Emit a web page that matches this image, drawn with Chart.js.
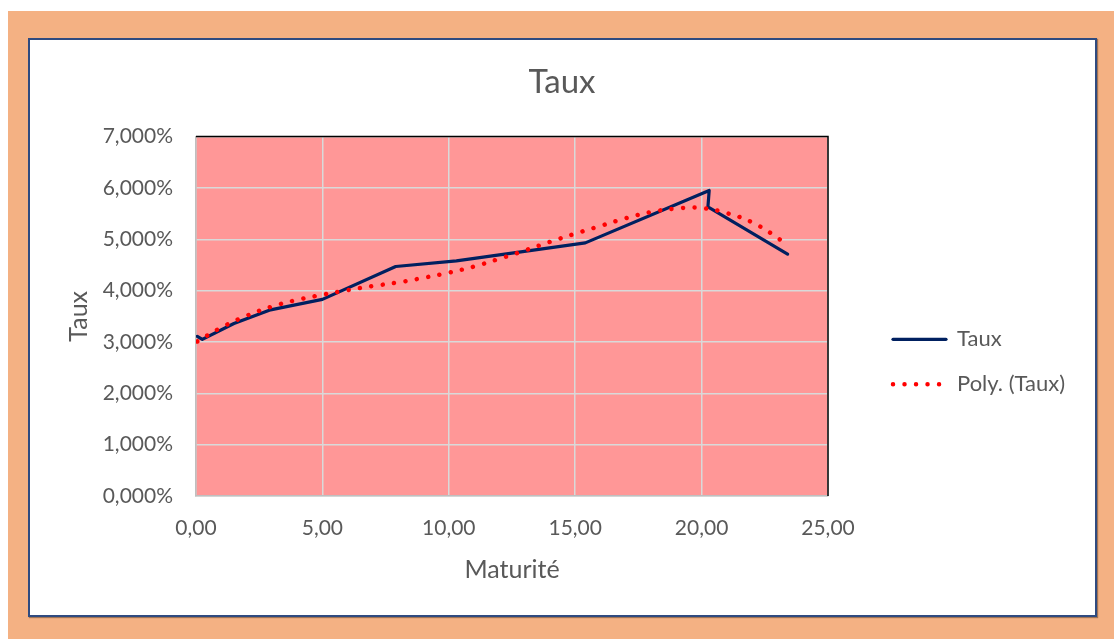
<!DOCTYPE html>
<html lang="fr">
<head>
<meta charset="utf-8">
<title>Taux</title>
<script src="https://cdn.jsdelivr.net/npm/chart.js@4.4.1/dist/chart.umd.min.js"></script>
<style>
  html, body { margin: 0; padding: 0; background: #ffffff; }
  body { width: 1114px; height: 639px; position: relative; overflow: hidden; }
  .frame {
    position: absolute; left: 8px; top: 11px; width: 1106px; height: 628px;
    background: #F4B183;
  }
  .card {
    position: absolute; left: 28px; top: 38px; width: 1065px; height: 575px;
    background: #ffffff; border: 2px solid #2F4B80;
    box-shadow: 1px 1px 1px rgba(0, 0, 0, 0.35);
  }
  #chart { position: absolute; left: 0; top: 0; }
</style>
</head>
<body>
<div class="frame"></div>
<div class="card"></div>
<canvas id="chart" width="1114" height="639"></canvas>
<script>
// Observed rates (in %) by maturity (years)
const maturites = [0.05, 0.25, 1.5, 2.9, 5.0, 7.9, 10.3, 15.4, 20.3, 20.25, 23.4];
const taux      = [3.11, 3.05, 3.36, 3.62, 3.83, 4.47, 4.58, 4.93, 5.95, 5.63, 4.71];

// Polynomial trend curve of the rates
const polyMaturites = [0.05, 1, 2, 3, 4, 5, 6, 7, 8, 9, 10, 11, 12, 13, 14, 15, 16, 17, 18, 19, 20, 21, 22, 23, 23.4];
const polyTaux      = [3.01, 3.28, 3.51, 3.69, 3.82, 3.92, 4.01, 4.09, 4.16, 4.25, 4.35, 4.47, 4.62, 4.78, 4.95, 5.11, 5.26, 5.41, 5.53, 5.60, 5.61, 5.51, 5.33, 5.03, 4.86];

// Axis ticks
const xTicks = [0, 5, 10, 15, 20, 25];
const yTicks = [0, 1, 2, 3, 4, 5, 6, 7];

const TEXT = '#595959';
const FONT = 'Lato';

const tauxPoints = maturites.map((m, i) => ({ x: m, y: taux[i] }));
const polyPoints = polyMaturites.map((m, i) => ({ x: m, y: polyTaux[i] }));

// Pink plot background and black top/right plot frame
const plotArea = {
  id: 'plotArea',
  beforeDraw(chart) {
    const { ctx, chartArea: a } = chart;
    ctx.save();
    ctx.fillStyle = '#FF9797';
    ctx.fillRect(a.left, a.top, a.right - a.left, a.bottom - a.top);
    ctx.restore();
  },
  beforeDatasetsDraw(chart) {
    const { ctx, chartArea: a } = chart;
    ctx.save();
    ctx.strokeStyle = '#000000';
    ctx.lineWidth = 1.5;
    ctx.beginPath();
    ctx.moveTo(a.left, a.top);
    ctx.lineTo(a.right, a.top);
    ctx.lineTo(a.right, a.bottom);
    ctx.stroke();
    ctx.restore();
  }
};

// Put the legend block to the right of the plot, vertically below centre
const legendPlacement = {
  id: 'legendPlacement',
  afterLayout(chart) {
    const lg = chart.legend;
    const a = chart.chartArea;
    lg.left = a.right + 42;
    lg.right = lg.left + 240;
    lg.top = (a.top + a.bottom) / 2 - 11;
    lg.bottom = lg.top + 150;
    lg.width = lg.right - lg.left;
    lg.height = lg.bottom - lg.top;
  }
};

new Chart(document.getElementById('chart'), {
  type: 'scatter',
  data: {
    datasets: [
      {
        label: 'Taux',
        data: tauxPoints,
        showLine: true,
        borderColor: '#002060',
        backgroundColor: '#002060',
        borderWidth: 3.2,
        borderJoinStyle: 'round',
        borderCapStyle: 'round',
        pointRadius: 0,
        pointHoverRadius: 0,
        tension: 0,
        order: 1
      },
      {
        label: 'Poly. (Taux)',
        data: polyPoints,
        showLine: true,
        borderColor: '#FF0000',
        backgroundColor: '#FF0000',
        borderWidth: 4.5,
        borderDash: [0.01, 11.5],
        borderCapStyle: 'round',
        pointRadius: 0,
        pointHoverRadius: 0,
        tension: 0.4,
        order: 0
      }
    ]
  },
  options: {
    responsive: false,
    animation: false,
    devicePixelRatio: 1,
    layout: { padding: { left: 10, right: 0, top: 0, bottom: 0 } },
    plugins: {
      title: {
        display: true,
        text: 'Taux',
        color: TEXT,
        font: { family: FONT, size: 33, weight: 'normal' },
        padding: { top: 63, bottom: 34 }
      },
      legend: {
        display: true,
        position: 'chartArea',
        align: 'start',
        labels: {
          color: TEXT,
          font: { family: FONT, size: 22 },
          usePointStyle: true,
          pointStyle: 'line',
          pointStyleWidth: 53,
          padding: 23,
          generateLabels(chart) {
            return chart.data.datasets.map((ds, i) => ({
              text: ds.label,
              fillStyle: ds.borderColor,
              strokeStyle: ds.borderColor,
              fontColor: TEXT,
              lineWidth: ds.borderWidth,
              lineDash: ds.borderDash || [],
              lineCap: ds.borderCapStyle || 'butt',
              pointStyle: 'line',
              hidden: false,
              datasetIndex: i
            }));
          }
        }
      },
      tooltip: { enabled: false }
    },
    scales: {
      x: {
        type: 'linear',
        position: 'bottom',
        min: 0,
        max: 25,
        afterBuildTicks(scale) { scale.ticks = xTicks.map(v => ({ value: v })); },
        afterFit(scale) { scale.height = 143; },
        grid: { color: '#D9D9D9', lineWidth: 1.5, drawTicks: false },
        border: { display: true, color: '#BFBFBF', width: 1.5 },
        ticks: {
          color: TEXT,
          font: { family: FONT, size: 21 },
          padding: 20,
          callback: v => v.toFixed(2).replace('.', ',')
        },
        title: {
          display: true,
          text: 'Maturité',
          color: TEXT,
          font: { family: FONT, size: 25 },
          padding: { top: 0, bottom: 54 }
        }
      },
      y: {
        type: 'linear',
        position: 'left',
        min: 0,
        max: 7,
        afterBuildTicks(scale) { scale.ticks = yTicks.map(v => ({ value: v })); },
        afterFit(scale) { scale.width = 186; },
        grid: { color: '#D9D9D9', lineWidth: 1.5, drawTicks: false },
        border: { display: true, color: '#BFBFBF', width: 1.5 },
        ticks: {
          color: TEXT,
          font: { family: FONT, size: 21 },
          padding: 23,
          callback: v => v.toFixed(3).replace('.', ',') + '%'
        },
        title: {
          display: true,
          text: 'Taux',
          color: TEXT,
          font: { family: FONT, size: 25 },
          padding: { top: 54, bottom: 0 }
        }
      },
      legendSpace: {
        type: 'linear',
        position: 'right',
        display: true,
        afterFit(scale) { scale.width = 286; },
        grid: { display: false, drawTicks: false },
        border: { display: false },
        ticks: { display: false }
      }
    }
  },
  plugins: [plotArea, legendPlacement]
});
</script>
</body>
</html>
